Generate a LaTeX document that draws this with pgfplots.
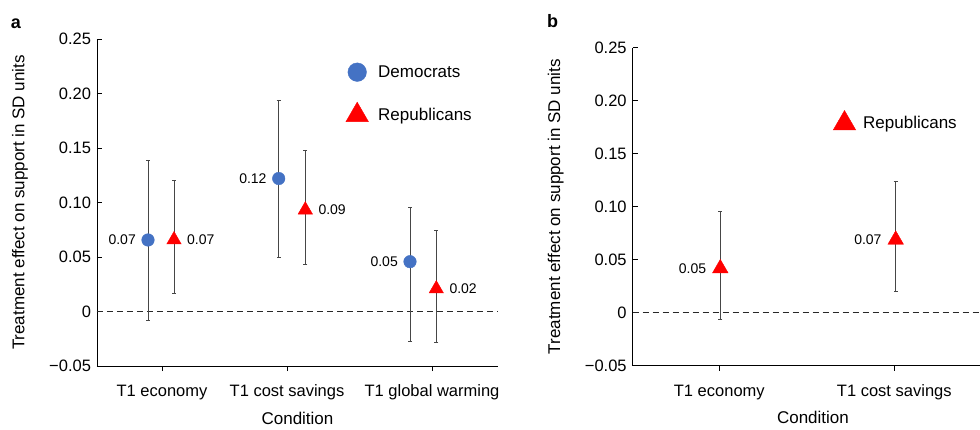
\documentclass[border=0pt]{standalone}
\usepackage{pgfplots}
\pgfplotsset{compat=1.18}
\usepackage{pgfplotstable}
\usepackage{fontspec}
\setmainfont{Liberation Sans}

\definecolor{dem}{RGB}{68,114,196}
\definecolor{rep}{RGB}{255,0,0}
\definecolor{ebar}{RGB}{70,70,70}
\definecolor{zline}{RGB}{40,40,40}

\pgfplotstableread{
x y ep em lab
148 0.0656 0.0731 0.0734 0.07
278.7 0.1220 0.0720 0.0720 0.12
410 0.0457 0.0495 0.0734 0.05
}\demA
\pgfplotstableread{
x y ep em lab
174 0.0658 0.0542 0.0491 0.07
305.3 0.0932 0.0543 0.0499 0.09
436.3 0.0208 0.0533 0.0491 0.02
}\repA
\pgfplotstableread{
x y ep em lab
720.3 0.0418 0.0541 0.0481 0.05
895.7 0.0688 0.0548 0.0487 0.07
}\repB

\pgfplotsset{
 panel/.style={
   scale only axis, anchor=south west,
   axis x line=bottom, axis y line=left,
   axis line style={-, line width=0.9pt, black},
   ymin=-0.05, ymax=0.25,
   ytick={-0.05,0,0.05,0.10,0.15,0.20,0.25},
   yticklabels={−0.05,0,0.05,0.10,0.15,0.20,0.25},
   tick align=inside, major tick length=5pt,
   tick style={line width=0.9pt, black},
   every major x tick/.append style={yshift=-5pt},
   ticklabel style={font=\fontsize{16.5}{19}\selectfont},
   yticklabel style={xshift=-2.5pt},
   xticklabel style={anchor=base, yshift=-30.7pt},
   every axis y label/.style={at={(rel axis cs:0,0.5)}, xshift=-77pt, rotate=90, anchor=center, font=\fontsize{17}{20}\selectfont},
   every axis x label/.style={at={(rel axis cs:0.5,0)}, yshift=-52pt, anchor=center, font=\fontsize{17}{20}\selectfont},
   ylabel={Treatment effect on support in SD units},
   xlabel={Condition},
   clip=false,
   legend cell align=left,
   legend style={draw=none, fill=none, inner sep=0pt, row sep=15pt,
     font=\fontsize{17}{20}\selectfont, anchor=north west},
 },
 pts/.style={only marks,
   error bars/.cd, y dir=both, y explicit,
   error bar style={line width=0.75pt, ebar},
   error mark options={rotate=90, line width=0.75pt, ebar, mark size=2pt},
   /pgfplots/.cd,
   nodes near coords, point meta=explicit symbolic,
   nodes near coords style={font=\fontsize{14}{16}\selectfont, inner sep=0pt, text=black},
 },
 zero/.style={forget plot, no markers, zline, line width=0.9pt, dash pattern=on 6pt off 4pt},
}

\begin{document}
\begin{tikzpicture}
\useasboundingbox (0pt,0pt) rectangle (980pt,429pt);
\node[font=\bfseries\fontsize{18}{20}\selectfont] at (16pt,405.7pt) {a};
\node[font=\bfseries\fontsize{18}{20}\selectfont] at (552.7pt,408pt) {b};

\begin{axis}[panel, at={(97pt,63pt)}, width=401pt, height=327pt,
  xmin=97, xmax=498, xtick={162,287,432},
  xticklabels={T1 economy, T1 cost savings, T1 global warming},
  legend style={at={(axis cs:345,0.2326)}},
]
\addplot[zero] coordinates {(97,0) (498,0)};
\addplot[pts, mark=*, mark size=6.3pt, mark options={fill=dem, draw=dem},
  nodes near coords style={anchor=east, xshift=-12pt},
  legend image code/.code={\path[draw=none, fill=none] (-12pt,-14pt) rectangle (19pt,14pt);
    \draw[mark=*, mark size=9.3pt, mark options={fill=dem, draw=dem}] plot coordinates {(0pt,0pt)};}]
  table[x=x, y=y, y error plus=ep, y error minus=em, meta=lab] {\demA};
\addlegendentry{Democrats}
\addplot[pts, mark=triangle*, mark size=8.3pt, mark options={fill=rep, draw=rep},
  nodes near coords style={anchor=west, xshift=13pt},
  legend image code/.code={\path[draw=none, fill=none] (-12pt,-14pt) rectangle (19pt,14pt);
    \draw[mark=triangle*, mark size=13pt, mark options={fill=rep, draw=rep}] plot coordinates {(0pt,0pt)};}]
  table[x=x, y=y, y error plus=ep, y error minus=em, meta=lab] {\repA};
\addlegendentry{Republicans}
\end{axis}

\begin{axis}[panel, at={(632.7pt,63.3pt)}, width=347.3pt, height=318pt,
  xmin=632.7, xmax=980, xtick={719.3,894.3},
  xticklabels={T1 economy, T1 cost savings},
  every axis x label/.style={at={(rel axis cs:0.519,0)}, yshift=-52pt, anchor=center, font=\fontsize{17}{20}\selectfont},
  legend style={at={(axis cs:832.3,0.1919)}},
]
\addplot[zero] coordinates {(632.7,0) (980,0)};
\addplot[pts, mark=triangle*, mark size=9pt, mark options={fill=rep, draw=rep},
  nodes near coords style={anchor=east, xshift=-14pt},
  legend image code/.code={\path[draw=none, fill=none] (-12pt,-14pt) rectangle (16.7pt,14pt);
    \draw[mark=triangle*, mark size=13pt, mark options={fill=rep, draw=rep}] plot coordinates {(0pt,0pt)};}]
  table[x=x, y=y, y error plus=ep, y error minus=em, meta=lab] {\repB};
\addlegendentry{Republicans}
\end{axis}
\end{tikzpicture}
\end{document}
